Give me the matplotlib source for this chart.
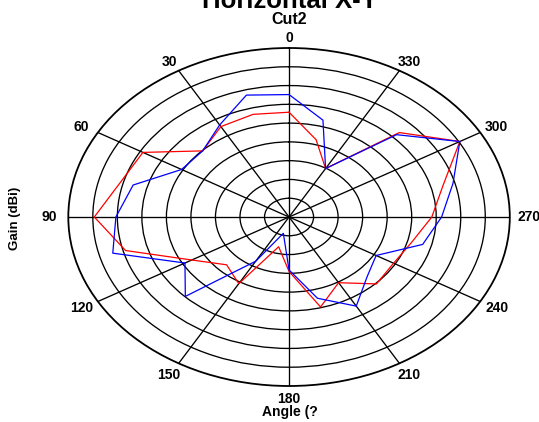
import numpy as np
import matplotlib
matplotlib.use("Agg")
import matplotlib.pyplot as plt

plt.rcParams['font.family'] = ['Liberation Sans', 'DejaVu Sans']

# ---- data (gain in dBi vs angle in degrees) ----
angles_deg = [0, 15, 30, 45, 60, 75, 90, 105, 120, 135, 150, 165,
              180, 195, 210, 225, 240, 255, 270, 285, 300, 315, 330, 345]
gain_red = [-12.1, -11.7, -12.2, -15.1, -5.6, -4.4, -0.3, -5.5, -17.1, -22.0, -19.5, -31.8,
            -25.5, -15.2, -19.8, -14.8, -15.4, -14.1, -10.9, -7.5, 0.2, -8.2, -25.1, -18.7]
gain_blue = [-7.4, -6.4, -11.7, -15.1, -14.7, -7.1, -4.7, -2.8, -15.5, -10.1, -26.4, -35.5,
             -25.9, -17.6, -12.6, -17.5, -19.5, -11.8, -8.9, -5.4, 0.2, -9.0, -25.1, -13.3]
theta_ticks = [0, 30, 60, 90, 120, 150, 180, 210, 240, 270, 300, 330]
theta_labels = ['0', '30', '60', '90', '120', '150', '180', '210', '240', '270', '300', '330']
r_min, r_max = -40, 5
r_rings = [-35, -30, -25, -20, -15, -10, -5, 0]

title = "Horizontal X-Y"
subtitle = "Cut2"
xlabel = "Angle (?"
ylabel = "Gain (dBi)"

W, H = 539, 422
fig = plt.figure(figsize=(W / 100, H / 100), dpi=100)
ax = fig.add_axes([68.3 / W, (H - 386) / H, 441.5 / W, 338 / H], projection='polar')
ax.set_aspect('auto')
ax.set_theta_zero_location('N')
ax.set_theta_direction(1)
ax.set_ylim(r_min, r_max)
ax.set_yticks(r_rings)
ax.set_yticklabels([])
ax.set_xticks(np.deg2rad(theta_ticks))
ax.set_xticklabels([])
ax.tick_params(axis='both', length=0)
ax.grid(True, color='black', linewidth=0.95)
ax.spines['polar'].set_linewidth(1.3)
ax.spines['polar'].set_color('black')

th = np.deg2rad(angles_deg + [angles_deg[0]])
ax.plot(th, gain_red + [gain_red[0]], color='#ff0000', linewidth=0.9, zorder=3)
ax.plot(th, gain_blue + [gain_blue[0]], color='#0000ff', linewidth=0.9, zorder=4)

for a, lbl in zip(theta_ticks, theta_labels):
    t = np.deg2rad(a)
    dx = -19 * np.sin(t)
    c = np.cos(t)
    dy = (10.5 if c > 0 else 13) * c
    ax.annotate(lbl, xy=(t, r_max), xytext=(dx, dy), textcoords='offset pixels',
                ha='center', va='center', fontsize=10, fontweight='bold',
                annotation_clip=False)

fig.text(289.5 / W, 1 - 7.5 / H, title, ha='center', va='baseline',
         fontsize=18.5, fontweight='bold')
fig.text(289.5 / W, 1 - 24.5 / H, subtitle, ha='center', va='baseline',
         fontsize=11.5, fontweight='bold')
fig.text(289.5 / W, 1 - 416 / H, xlabel, ha='center', va='baseline',
         fontsize=10, fontweight='bold')
fig.text(15 / W, 1 - 218 / H, ylabel, ha='center', va='center', rotation=90,
         fontsize=9.5, fontweight='bold')

fig.savefig('out.png', dpi=100)
